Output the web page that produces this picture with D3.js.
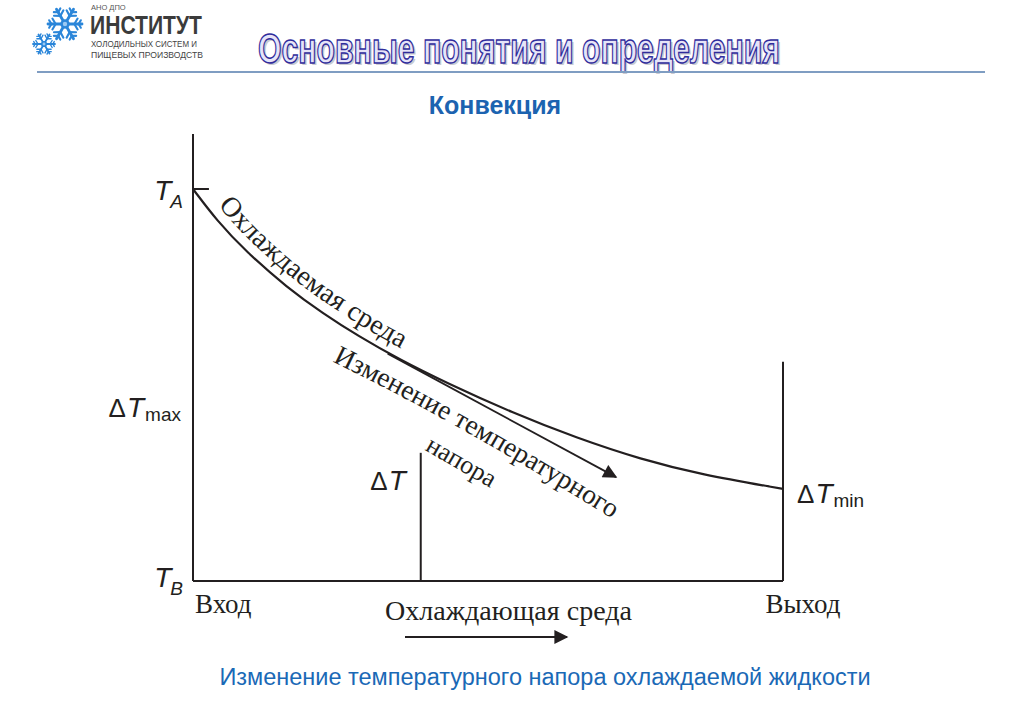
<!DOCTYPE html>
<html>
<head>
<meta charset="utf-8">
<script src="https://cdn.jsdelivr.net/npm/d3@7"></script>
<style>
  body { margin: 0; background: #fff; }
  svg { display: block; }
</style>
</head>
<body>
<svg id="chart" width="1024" height="708"></svg>
<script>
// cooled medium temperature along the exchanger (0 = inlet, 1 = outlet; 0 = T_B, 1 = T_A)
const curveX = [0, 0.04, 0.09, 0.16, 0.22, 0.28, 0.35, 0.43, 0.54, 0.65, 0.76, 0.86, 1.0]
const curveY = [1.0, 0.92, 0.84, 0.748, 0.683, 0.625, 0.565, 0.505, 0.43, 0.365, 0.31, 0.272, 0.235]

// vertical markers: [x, top]
const markers = [[0, 1.14], [0.386, 0.327], [1, 0.559]]

// labels on the left side, by level
const levelLabels = [
    { base: "T", sub: "A", y: 1.0, delta: false },
    { base: "T", sub: "max", y: 0.418, delta: true },
    { base: "T", sub: "B", y: 0.0, delta: false }
]

const xLabels = [{ text: "Вход", x: 0 }, { text: "Выход", x: 1 }]

const title = "Основные понятия и определения"
const subtitle = "Конвекция"
const caption = "Изменение температурного напора охлаждаемой жидкости"

const svg = d3.select("#chart")
const ink = "#231f20"
const serif = "'Liberation Serif', 'DejaVu Serif', serif"
const sans = "'Liberation Sans', Arial, sans-serif"

const x = d3.scaleLinear().domain([0, 1]).range([193, 783])
const y = d3.scaleLinear().domain([0, 1]).range([581, 189])

const defs = svg.append("defs")
defs.append("marker")
    .attr("id", "head")
    .attr("viewBox", "0 0 10 10")
    .attr("refX", 9).attr("refY", 5)
    .attr("markerWidth", 17).attr("markerHeight", 14)
    .attr("markerUnits", "userSpaceOnUse")
    .attr("orient", "auto")
    .append("path").attr("d", "M0,0 L10,5 L0,10 Z").attr("fill", ink)

//header: logo
function snowflake(g, cx, cy, r) {
    const f = g.append("g").attr("transform", `translate(${cx},${cy})`)
        .attr("stroke", "#2b86d9").attr("stroke-linecap", "round").attr("fill", "none")
    d3.range(6).forEach(i => {
        const arm = f.append("g").attr("transform", `rotate(${i * 60})`)
        arm.append("line").attr("x1", 0).attr("y1", 0).attr("x2", r).attr("y2", 0).attr("stroke-width", r / 6)
        ;[0.55, 0.8].forEach(t => {
            const b = r * (t === 0.55 ? 0.32 : 0.22)
            arm.append("line").attr("x1", r * t).attr("y1", 0).attr("x2", r * t + b * 0.6).attr("y2", -b).attr("stroke-width", r / 8)
            arm.append("line").attr("x1", r * t).attr("y1", 0).attr("x2", r * t + b * 0.6).attr("y2", b).attr("stroke-width", r / 8)
        })
    })
    f.append("circle").attr("r", r * 0.28).attr("fill", "#2b86d9").attr("stroke", "none")
    f.append("circle").attr("r", r * 0.13).attr("fill", "#9cc9f2").attr("stroke", "none")
}
const logo = svg.append("g")
snowflake(logo, 65, 24, 17)
snowflake(logo, 44, 44, 11)
logo.append("text").attr("x", 91).attr("y", 10).attr("font-family", sans).attr("font-size", 7.5).attr("fill", "#555").text("АНО ДПО")
logo.append("text").attr("x", 90).attr("y", 34).attr("font-family", sans).attr("font-weight", "bold").attr("font-size", 26)
    .attr("fill", "#3b3b3b").attr("textLength", 112).attr("lengthAdjust", "spacingAndGlyphs").text("ИНСТИТУТ")
logo.append("text").attr("x", 91).attr("y", 47).attr("font-family", sans).attr("font-size", 9.5).attr("fill", "#444")
    .attr("textLength", 106).attr("lengthAdjust", "spacingAndGlyphs").text("ХОЛОДИЛЬНЫХ СИСТЕМ И")
logo.append("text").attr("x", 91).attr("y", 58).attr("font-family", sans).attr("font-size", 9.5).attr("fill", "#444")
    .attr("textLength", 112).attr("lengthAdjust", "spacingAndGlyphs").text("ПИЩЕВЫХ ПРОИЗВОДСТВ")

//header: title
svg.append("text").attr("x", 521).attr("y", 65).attr("text-anchor", "middle")
    .attr("font-family", sans).attr("font-weight", "bold").attr("font-size", 42).attr("fill", "#a0a0ac").attr("opacity", 0.55)
    .attr("textLength", 522).attr("lengthAdjust", "spacingAndGlyphs").text(title)
svg.append("text").attr("x", 519).attr("y", 63).attr("text-anchor", "middle")
    .attr("font-family", sans).attr("font-weight", "bold").attr("font-size", 42).attr("fill", "#e6e4f8")
    .attr("stroke", "#2f2c9c").attr("stroke-width", 1.5)
    .attr("textLength", 522).attr("lengthAdjust", "spacingAndGlyphs").text(title)
svg.append("line").attr("x1", 37).attr("x2", 985).attr("y1", 72).attr("y2", 72)
    .attr("stroke", "#7f9dc2").attr("stroke-width", 2)

svg.append("text").attr("x", 495).attr("y", 114).attr("text-anchor", "middle")
    .attr("font-family", sans).attr("font-weight", "bold").attr("font-size", 25).attr("fill", "#1c63b0").text(subtitle)

//chart frame
const plot = svg.append("g").attr("stroke", ink).attr("fill", "none").attr("stroke-width", 2)
plot.append("line").attr("x1", x(0)).attr("x2", x(1)).attr("y1", y(0)).attr("y2", y(0))
plot.selectAll(".marker").data(markers).enter().append("line")
    .attr("x1", d => x(d[0])).attr("x2", d => x(d[0]))
    .attr("y1", y(0)).attr("y2", d => y(d[1]))
plot.append("line").attr("x1", x(0)).attr("x2", x(0.027)).attr("y1", y(1)).attr("y2", y(1))

//curve
const pts = curveX.map((v, i) => [v, curveY[i]])
const line = d3.line().x(d => x(d[0])).y(d => y(d[1])).curve(d3.curveBasis)
const curvePath = plot.append("path").attr("d", line(pts)).attr("stroke-width", 2.2)

// offset path for the curve label
const node = curvePath.node()
const total = node.getTotalLength()
const off = []
for (let s = 0; s <= total; s += 4) {
    const p = node.getPointAtLength(s), q = node.getPointAtLength(Math.min(total, s + 1))
    const dx = q.x - p.x, dy = q.y - p.y, n = Math.hypot(dx, dy) || 1
    off.push([p.x + dy / n * 10, p.y - dx / n * 10])
}
defs.append("path").attr("id", "curveLabel").attr("d", d3.line().curve(d3.curveBasis)(off))
svg.append("text").attr("font-family", serif).attr("font-size", 28).attr("fill", ink)
    .append("textPath").attr("href", "#curveLabel").attr("startOffset", 28).text("Охлаждаемая среда")

//ΔT change arrow
plot.append("line").attr("x1", x(0.33)).attr("y1", y(0.58)).attr("x2", x(0.717)).attr("y2", y(0.265))
    .attr("stroke-width", 1.8).attr("marker-end", "url(#head)")
defs.append("path").attr("id", "arrowLabel")
    .attr("d", `M${x(0.236)},${y(0.56)} Q${x(0.455)},${y(0.40)} ${x(0.725)},${y(0.145)}`)
svg.append("text").attr("font-family", serif).attr("font-size", 27.5).attr("fill", ink)
    .append("textPath").attr("href", "#arrowLabel").text("Изменение температурного")
svg.append("text").attr("font-family", serif).attr("font-size", 26).attr("fill", ink)
    .attr("transform", `translate(${x(0.392)},${y(0.335)}) rotate(30)`).text("напора")

//level labels
function levelLabel(g, d, xr, yb) {
    const t = g.append("text").attr("x", xr).attr("y", yb).attr("text-anchor", "end")
        .attr("font-family", sans).attr("fill", ink)
    if (d.delta) t.append("tspan").attr("font-size", 26).text("Δ")
    t.append("tspan").attr("font-size", 28).attr("font-style", "italic").attr("dx", d.delta ? 1 : 0).text(d.base)
    if (!d.sub) return
    const upright = d.sub === "max" || d.sub === "min"
    t.append("tspan").attr("font-size", 19).attr("font-style", upright ? "normal" : "italic")
        .attr("dy", upright ? 4 : 8).attr("dx", upright ? 1 : -1).text(d.sub)
}
const labels = svg.append("g")
levelLabels.forEach(d => {
    const yb = d.y === 1 ? y(d.y) + 11 : d.y === 0 ? y(d.y) + 6 : y(d.y)
    levelLabel(labels, d, d.delta ? 181 : 183, yb)
})
levelLabel(labels, { base: "T", sub: "", delta: true }, x(0.386) - 15, y(0.232))
const tmin = labels.append("text").attr("x", x(1) + 14).attr("y", y(0.2)).attr("font-family", sans).attr("fill", ink)
tmin.append("tspan").attr("font-size", 26).text("Δ")
tmin.append("tspan").attr("font-size", 28).attr("font-style", "italic").attr("dx", 1).text("T")
tmin.append("tspan").attr("font-size", 19).attr("dy", 4).attr("dx", 1).text("min")

//x labels
svg.selectAll(".xl").data(xLabels).enter().append("text")
    .attr("x", d => d.x === 0 ? x(d.x) + 2 : x(d.x) + 20)
    .attr("y", 613).attr("text-anchor", d => d.x === 0 ? "start" : "middle")
    .attr("font-family", serif).attr("font-size", 27).attr("fill", ink).text(d => d.text)

svg.append("text").attr("x", 385).attr("y", 620).attr("font-family", serif).attr("font-size", 27).attr("fill", ink)
    .attr("textLength", 247).attr("lengthAdjust", "spacingAndGlyphs").text("Охлаждающая среда")
svg.append("line").attr("x1", 405).attr("x2", 567).attr("y1", 637).attr("y2", 637)
    .attr("stroke", ink).attr("stroke-width", 2).attr("marker-end", "url(#head)")

//caption
svg.append("text").attr("x", 545).attr("y", 685).attr("text-anchor", "middle")
    .attr("font-family", sans).attr("font-size", 23.5).attr("fill", "#1a69b6").text(caption)
</script>
</body>
</html>
